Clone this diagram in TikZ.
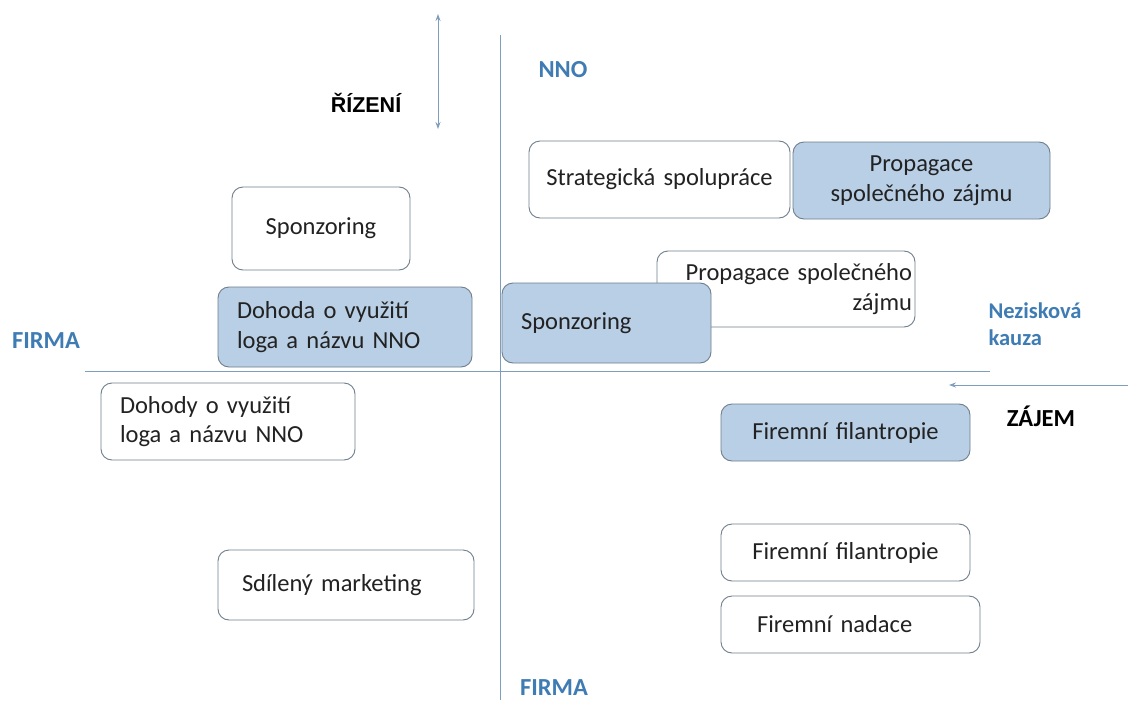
\documentclass[tikz,border=0pt]{standalone}
\usepackage{fontspec}
\setmainfont{Carlito}
\newfontfamily\arialish{Liberation Sans}
\usetikzlibrary{arrows.meta}
\definecolor{boxline}{HTML}{707E8C}
\definecolor{boxfill}{HTML}{B8CFE6}
\definecolor{axisline}{HTML}{7F9EBE}
\definecolor{labelblue}{HTML}{3F7CB4}
\definecolor{bodytext}{HTML}{222222}
\tikzset{
  box/.style={draw=boxline, line width=0.9pt, rounded corners=11pt, text=bodytext,
    font=\fontsize{24.5}{29.5}\selectfont, inner sep=0pt},
  whitebox/.style={box, fill=white},
  bluebox/.style={box, fill=boxfill},
  axis/.style={draw=axisline, line width=1pt},
  dirarrow/.style={draw=axisline, line width=1pt, -{Stealth[length=7pt,width=5pt]}},
  quadlabel/.style={font=\fontsize{24.5}{29}\selectfont\bfseries, text=labelblue},
  kauzalabel/.style={font=\fontsize{22.5}{27}\selectfont\bfseries, text=labelblue},
  dirlabel/.style={font=\fontsize{24.5}{29}\selectfont\bfseries, text=black}
}
\begin{document}
\begin{tikzpicture}[x=1pt,y=-1pt]
\useasboundingbox[fill=white] (0,0) rectangle (1130,704);

% axes
\coordinate (vtop) at (500,35);
\coordinate (vbot) at (500,700);
\coordinate (hleft) at (85,371);
\coordinate (hright) at (990,371);
\draw[axis] (vtop) -- (vbot);
\draw[axis] (hleft) -- (hright);

% direction arrows
\coordinate (rtop) at (438,14);
\coordinate (rbot) at (438,129);
\draw[dirarrow, {Stealth[length=7pt,width=5pt]}-{Stealth[length=7pt,width=5pt]}] (rtop) -- (rbot);
\coordinate (zstart) at (1128,385);
\coordinate (zend) at (949,385);
\draw[dirarrow] (zstart) -- (zend);

% axis labels
\node[dirlabel, font=\fontsize{21.5}{26}\selectfont\bfseries\arialish] (rizeni) at (366,103) {ŘÍZENÍ};
\node[dirlabel] (zajem) at (1041,416) {ZÁJEM};
\node[quadlabel] (nno) at (563,70) {NNO};
\node[quadlabel] (firmaL) at (46,341) {FIRMA};
\node[quadlabel] (firmaB) at (554,688) {FIRMA};
\node[kauzalabel, align=left, anchor=west] (kauza) at (985,324.5) {Nezisková\\kauza};

% upper left quadrant
\node[whitebox, minimum width=178, minimum height=83, align=center] (sponsA) at (321,228.5) {Sponzoring};
\node[bluebox, minimum width=254, minimum height=80, inner xsep=19pt, text width=216, align=left] (dohoda) at (345,327) {Dohoda o využití\\loga a názvu NNO};

% lower left quadrant
\node[whitebox, minimum width=254, minimum height=77, inner xsep=19pt, text width=216, align=left] (dohody) at (228,421.5) {Dohody o využití\\loga a názvu NNO};
\node[whitebox, minimum width=256, minimum height=70, inner xsep=24pt, text width=208, align=left] (sdileny) at (346,585) {Sdílený marketing};

% upper right quadrant
\node[whitebox, minimum width=261, minimum height=77, text width=261, align=center] (strat) at (659.5,179.5) {Strategická spolupráce};
\node[bluebox, minimum width=257, minimum height=77, text width=257, align=center] (propA) at (921.5,180.5) {Propagace\\společného zájmu};
\node[whitebox, minimum width=258, minimum height=76, inner xsep=3pt, text width=252, align=right] (propB) at (786,289) {Propagace společného\\zájmu};
\node[bluebox, minimum width=209, minimum height=80, inner xsep=19pt, text width=171, align=left] (sponsB) at (606.5,323) {Sponzoring};

% lower right quadrant
\node[bluebox, minimum width=249, minimum height=57, text width=249, align=center] (filA) at (845.5,432.5) {Firemní filantropie};
\node[whitebox, minimum width=249, minimum height=57, text width=249, align=center] (filB) at (845.5,552.5) {Firemní filantropie};
\node[whitebox, minimum width=259, minimum height=57, inner xsep=36pt, text width=187, align=left] (nadace) at (850.5,624.5) {Firemní nadace};
\end{tikzpicture}
\end{document}
